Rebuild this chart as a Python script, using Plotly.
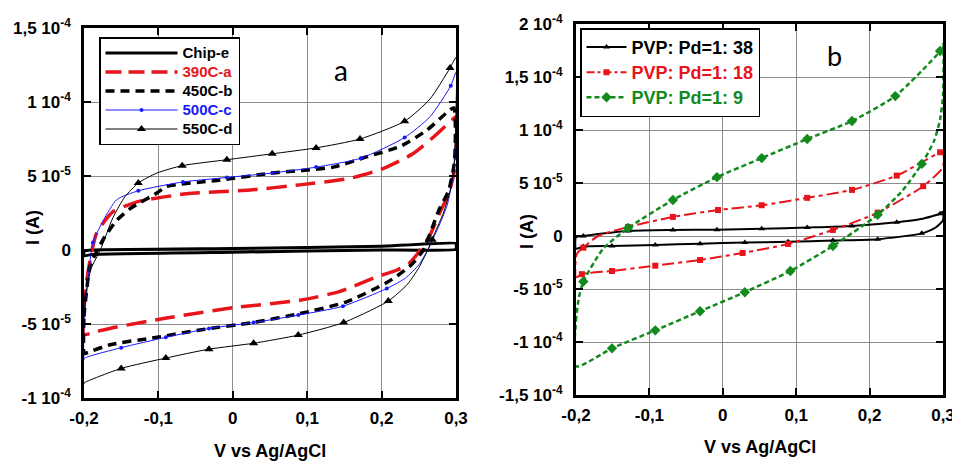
import plotly.graph_objects as go

S = 1e-5  # currents below are in units of 1e-5 A

# ---------- panel a ----------
chip_v = [-0.2, -0.2, -0.19, 0.0, 0.2, 0.3, 0.3, 0.2, 0.0, -0.19, -0.2]
chip_i = [-0.4, -0.1, 0.0, 0.1, 0.25, 0.45, 0.05, 0.0, -0.15, -0.3, -0.4]

a390_v = [-0.2, -0.2, -0.198, -0.193, -0.183, -0.161, -0.14, -0.125, -0.062, 0.023, 0.09, 0.158, 0.202,
          0.242, 0.269, 0.295, 0.3, 0.298, 0.29, 0.278, 0.265, 0.252, 0.237, 0.221, 0.194, 0.144, 0.09,
          0.0, -0.089, -0.156, -0.183, -0.2]
a390_i = [-5.7, -4.0, -2.7, -1.0, 1.15, 2.6, 3.05, 3.3, 3.8, 4.05, 4.4, 4.85, 5.5,
          6.5, 7.6, 8.8, 9.0, 5.4, 3.8, 2.5, 1.0, 0.0, -0.9, -1.35, -1.8, -2.8, -3.4,
          -3.9, -4.6, -5.2, -5.5, -5.7]

a450_v = [-0.2, -0.2, -0.197, -0.192, -0.182, -0.172, -0.156, -0.138, -0.102, -0.089, -0.021, 0.053,
          0.135, 0.18, 0.225, 0.261, 0.288, 0.297, 0.298, 0.29, 0.278, 0.268, 0.256, 0.24, 0.225,
          0.207, 0.153, 0.09, 0.027, -0.044, -0.102, -0.165, -0.199, -0.2]
a450_i = [-7.0, -4.5, -3.0, -1.1, 0.0, 0.9, 2.0, 2.8, 3.85, 4.3, 4.7, 5.2,
          5.6, 6.3, 7.0, 8.1, 9.3, 9.6, 6.0, 4.0, 2.8, 1.5, 0.0, -1.0, -1.6,
          -2.2, -3.5, -4.3, -4.9, -5.4, -5.9, -6.4, -7.0, -7.0]

a500_v = [-0.2, -0.2, -0.198, -0.196, -0.188, -0.174, -0.156, -0.127, -0.067, -0.008, 0.053, 0.112,
          0.172, 0.231, 0.265, 0.293, 0.3, 0.3, 0.296, 0.288, 0.276, 0.262, 0.25, 0.232, 0.207,
          0.148, 0.088, 0.028, -0.032, -0.09, -0.15, -0.199, -0.2]
a500_i = [-7.4, -4.5, -3.5, -2.7, 0.5, 2.0, 3.4, 4.0, 4.6, 4.9, 5.2, 5.6,
          6.2, 7.6, 9.0, 11.1, 12.0, 8.0, 5.0, 3.0, 1.5, 0.0, -1.0, -1.9, -2.6,
          -3.8, -4.4, -4.9, -5.3, -5.9, -6.6, -7.3, -7.4]
a500_mv = [-0.188, -0.127, -0.067, -0.008, 0.053, 0.112, 0.172, 0.231, 0.293,
           0.207, 0.148, 0.088, 0.028, -0.032, -0.09, -0.15]
a500_mi = [0.5, 4.0, 4.6, 4.9, 5.2, 5.6, 6.2, 7.6, 11.1,
           -2.6, -3.8, -4.4, -4.9, -5.3, -5.9, -6.6]

a550_v = [-0.2, -0.2, -0.196, -0.19, -0.178, -0.161, -0.145, -0.127, -0.102, -0.068, -0.008, 0.053,
          0.112, 0.171, 0.231, 0.265, 0.292, 0.3, 0.3, 0.298, 0.292, 0.283, 0.272, 0.262, 0.25,
          0.235, 0.209, 0.149, 0.088, 0.028, -0.032, -0.09, -0.15, -0.197, -0.2]
a550_i = [-9.0, -4.5, -2.5, -1.2, 0.0, 2.2, 3.6, 4.53, 5.2, 5.7, 6.1, 6.5,
          6.9, 7.5, 8.7, 10.2, 12.3, 13.0, 9.5, 6.0, 4.0, 2.5, 1.2, 0.0, -1.2,
          -2.3, -3.45, -4.9, -5.75, -6.3, -6.7, -7.3, -8.0, -8.9, -9.0]
a550_mv = [-0.127, -0.068, -0.008, 0.053, 0.112, 0.171, 0.231, 0.292,
           0.268, 0.209, 0.149, 0.088, 0.028, -0.032, -0.09, -0.15]
a550_mi = [4.53, 5.7, 6.1, 6.5, 6.9, 7.5, 8.7, 12.3,
           0.7, -3.45, -4.9, -5.75, -6.3, -6.7, -7.3, -8.0]

# ---------- panel b ----------
b38_v = [-0.2, -0.19, -0.129, -0.068, -0.008, 0.053, 0.115, 0.176, 0.237, 0.27, 0.296, 0.3,
         0.3, 0.29, 0.271, 0.211, 0.15, 0.089, 0.03, -0.031, -0.092, -0.151, -0.19, -0.2, -0.2]
b38_i = [-0.1, 0.0, 0.47, 0.57, 0.6, 0.68, 0.8, 0.95, 1.3, 1.6, 2.1, 2.3,
         1.5, 0.8, 0.25, -0.3, -0.42, -0.55, -0.62, -0.72, -0.85, -0.94, -1.0, -1.2, -0.1]
b38_mv = [-0.19, -0.129, -0.068, -0.008, 0.053, 0.115, 0.176, 0.237, 0.296,
          0.271, 0.211, 0.15, 0.089, 0.03, -0.031, -0.092, -0.151, -0.19]
b38_mi = [0.0, 0.47, 0.57, 0.6, 0.68, 0.8, 0.95, 1.3, 2.1,
          0.25, -0.3, -0.42, -0.55, -0.62, -0.72, -0.85, -0.94, -1.0]

b18_v = [-0.2, -0.2, -0.197, -0.19, -0.17, -0.129, -0.068, -0.0065, 0.053, 0.115, 0.176, 0.237, 0.296,
         0.3, 0.3, 0.273, 0.211, 0.15, 0.089, 0.027, -0.031, -0.092, -0.151, -0.192, -0.2]
b18_i = [-3.9, -2.0, -1.5, -1.1, 0.0, 0.85, 1.8, 2.45, 2.9, 3.6, 4.35, 5.7, 7.9,
         8.0, 6.5, 4.7, 2.2, 0.57, -0.75, -1.6, -2.26, -2.8, -3.3, -3.6, -3.9]
b18_mv = [-0.19, -0.129, -0.068, -0.0065, 0.053, 0.115, 0.176, 0.237, 0.296,
          0.273, 0.211, 0.15, 0.089, 0.027, -0.031, -0.092, -0.151, -0.192]
b18_mi = [-1.1, 0.85, 1.8, 2.45, 2.9, 3.6, 4.35, 5.7, 7.9,
          4.7, 2.2, 0.57, -0.75, -1.6, -2.26, -2.8, -3.3, -3.6]

b9_v = [-0.2, -0.2, -0.196, -0.19, -0.163, -0.129, -0.068, -0.008, 0.053, 0.115, 0.176, 0.235, 0.296,
        0.3, 0.3, 0.296, 0.288, 0.271, 0.245, 0.211, 0.15, 0.092, 0.03, -0.031, -0.092, -0.151, -0.2]
b9_i = [-12.3, -8.0, -5.8, -4.3, -1.2, 0.75, 3.4, 5.55, 7.35, 9.15, 10.85, 13.2, 17.45,
        18.1, 13.2, 11.0, 9.0, 6.8, 4.3, 2.0, -0.94, -3.3, -5.3, -7.1, -8.9, -10.6, -12.3]
b9_mv = [-0.19, -0.129, -0.068, -0.008, 0.053, 0.115, 0.176, 0.235, 0.296,
         0.271, 0.211, 0.15, 0.092, 0.03, -0.031, -0.092, -0.151]
b9_mi = [-4.3, 0.75, 3.4, 5.55, 7.35, 9.15, 10.85, 13.2, 17.45,
         6.8, 2.0, -0.94, -3.3, -5.3, -7.1, -8.9, -10.6]

x_ticks = [-0.2, -0.1, 0, 0.1, 0.2, 0.3]
x_labels = ["-0,2", "-0,1", "0", "0,1", "0,2", "0,3"]
ya_ticks = [-1e-4, -5e-5, 0, 5e-5, 1e-4, 1.5e-4]
ya_labels = ["-1 10<sup>-4</sup>", "-5 10<sup>-5</sup>", "0", "5 10<sup>-5</sup>",
             "1 10<sup>-4</sup>", "1,5 10<sup>-4</sup>"]
yb_ticks = [-1.5e-4, -1e-4, -5e-5, 0, 5e-5, 1e-4, 1.5e-4, 2e-4]
yb_labels = ["-1,5 10<sup>-4</sup>", "-1 10<sup>-4</sup>", "-5 10<sup>-5</sup>", "0",
             "5 10<sup>-5</sup>", "1 10<sup>-4</sup>", "1,5 10<sup>-4</sup>", "2 10<sup>-4</sup>"]

FONT = "Liberation Sans, Arial, sans-serif"
RED = "#e8141b"
BLUE = "#1a1aff"
GREEN = "#128a1e"

# page body has an 8px margin: build the figure 8px smaller and map screen pixels into it
OFF = 8
W, H = 960 - OFF, 461 - OFF

def px(x):
    return (x - OFF) / W

def py(y):
    return 1 - (y - OFF) / H

def sc(lst):
    return [v * S for v in lst]

fig = go.Figure()

def line(x, y, color, width, dash, xa, ya, smooth=0.6):
    fig.add_trace(go.Scatter(x=x, y=sc(y), mode="lines", xaxis=xa, yaxis=ya, showlegend=False,
                             line=dict(color=color, width=width, dash=dash, shape="spline",
                                       smoothing=smooth), hoverinfo="skip"))

def marks(x, y, color, symbol, size, xa, ya):
    fig.add_trace(go.Scatter(x=x, y=sc(y), mode="markers", xaxis=xa, yaxis=ya, showlegend=False,
                             marker=dict(color=color, symbol=symbol, size=size), hoverinfo="skip"))

def legend_entry(name, color, width, dash, symbol, size, legend, fsize):
    label = "<span style='color:%s;font-size:%dpx'>%s</span>" % (color, fsize, name)
    fig.add_trace(go.Scatter(x=[None], y=[None], mode="lines+markers" if symbol else "lines",
                             name=label, legend=legend,
                             line=dict(color=color, width=width, dash=dash),
                             marker=dict(color=color, symbol=symbol or "circle", size=size)))

# panel a traces
line(chip_v, chip_i, "black", 3, "solid", "x", "y", 0.3)
line(a390_v, a390_i, RED, 3.5, "20px,9px", "x", "y")
line(a450_v, a450_i, "black", 3.5, "9px,6px", "x", "y")
line(a500_v, a500_i, BLUE, 1, "solid", "x", "y")
marks(a500_mv, a500_mi, BLUE, "circle", 4, "x", "y")
line(a550_v, a550_i, "black", 1, "solid", "x", "y")
marks(a550_mv, a550_mi, "black", "triangle-up", 8, "x", "y")

# panel b traces
line(b38_v, b38_i, "black", 2, "solid", "x2", "y2")
marks(b38_mv, b38_mi, "black", "triangle-up", 6, "x2", "y2")
line(b18_v, b18_i, RED, 2, "12px,4px,4px,4px", "x2", "y2")
marks(b18_mv, b18_mi, RED, "square", 6, "x2", "y2")
line(b9_v, b9_i, GREEN, 2.5, "5px,3px", "x2", "y2")
marks(b9_mv, b9_mi, GREEN, "diamond", 8, "x2", "y2")

# legends
legend_entry("Chip-e", "black", 3, "solid", None, 0, "legend", 15)
legend_entry("390C-a", RED, 3.5, "16px,7px", None, 0, "legend", 15)
legend_entry("450C-b", "black", 3.5, "9px,6px", None, 0, "legend", 15)
legend_entry("500C-c", BLUE, 1, "solid", "circle", 4, "legend", 15)
legend_entry("550C-d", "black", 1, "solid", "triangle-up", 8, "legend", 15)

legend_entry("PVP: Pd=1: 38", "black", 2, "solid", "triangle-up", 6, "legend2", 18)
legend_entry("PVP: Pd=1: 18", RED, 2, "8px,3px,3px,3px", "square", 6, "legend2", 18)
legend_entry("PVP: Pd=1: 9", GREEN, 2.5, "5px,3px", "diamond", 8, "legend2", 18)

axis_common = dict(showgrid=True, gridcolor="#8c8c8c", gridwidth=1, zeroline=False,
                   showline=True, linecolor="black", mirror="ticks", ticks="inside",
                   ticklen=7, tickwidth=2, tickcolor="black", automargin=False,
                   tickfont=dict(family=FONT, size=17, color="black", weight="bold"))

fig.update_layout(
    width=W, height=H, margin=dict(l=0, r=0, t=0, b=0, autoexpand=False),
    paper_bgcolor="white", plot_bgcolor="white",
    xaxis=dict(domain=[px(84), px(456)], range=[-0.2, 0.3], tickvals=x_ticks, ticktext=x_labels,
               linewidth=2.5, anchor="y", ticklabelstandoff=3, **axis_common),
    yaxis=dict(domain=[py(398), py(28)], range=[-1e-4, 1.5e-4], tickvals=ya_ticks, ticktext=ya_labels,
               linewidth=2.5, anchor="x", ticklabelstandoff=7, **axis_common),
    xaxis2=dict(domain=[px(576), px(943)], range=[-0.2, 0.3], tickvals=x_ticks, ticktext=x_labels,
                linewidth=3, anchor="y2", ticklabelstandoff=3, **axis_common),
    yaxis2=dict(domain=[py(395), py(24)], range=[-1.5e-4, 2e-4], tickvals=yb_ticks, ticktext=yb_labels,
                linewidth=3, anchor="x2", ticklabelstandoff=7, **axis_common),
    legend=dict(x=px(99), y=py(37), xanchor="left", yanchor="top",
                bgcolor="white", bordercolor="black", borderwidth=1.5, itemwidth=72,
                font=dict(family=FONT, size=12, color="black", weight="bold"), tracegroupgap=0),
    legend2=dict(x=px(580), y=py(28), xanchor="left", yanchor="top",
                 bgcolor="white", bordercolor="black", borderwidth=1.5, itemwidth=40,
                 font=dict(family=FONT, size=17, color="black", weight="bold"), tracegroupgap=0),
)

ann_font = dict(family=FONT, size=18, color="black", weight="bold")
fig.add_annotation(text="V vs Ag/AgCl", x=px(270), y=py(451), xref="paper", yref="paper",
                   showarrow=False, font=ann_font, xanchor="center", yanchor="middle")
fig.add_annotation(text="V vs Ag/AgCl", x=px(760), y=py(447), xref="paper", yref="paper",
                   showarrow=False, font=ann_font, xanchor="center", yanchor="middle")
fig.add_annotation(text="I (A)", x=px(33), y=py(228), xref="paper", yref="paper",
                   showarrow=False, font=ann_font, textangle=-90, xanchor="center", yanchor="middle")
fig.add_annotation(text="I (A)", x=px(527), y=py(232), xref="paper", yref="paper",
                   showarrow=False, font=ann_font, textangle=-90, xanchor="center", yanchor="middle")
fig.add_annotation(text="a", x=px(341), y=py(70), xref="paper", yref="paper",
                   showarrow=False, font=dict(family="Lato, Open Sans, sans-serif", size=28, color="black"),
                   xanchor="center", yanchor="middle")
fig.add_annotation(text="b", x=px(834), y=py(56), xref="paper", yref="paper",
                   showarrow=False, font=dict(family="Lato, Open Sans, sans-serif", size=27, color="black"),
                   xanchor="center", yanchor="middle")

fig.write_html("out.html")
